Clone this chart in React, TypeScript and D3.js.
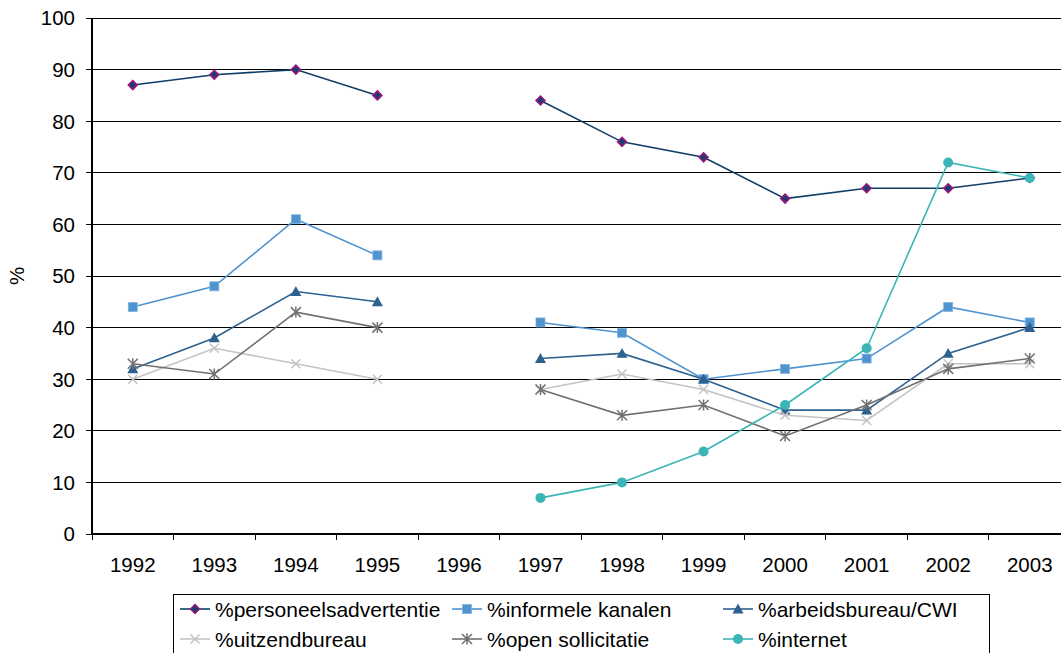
import React from "react";
import * as d3 from "d3";

const years = ["1992", "1993", "1994", "1995", "1996", "1997", "1998", "1999", "2000", "2001", "2002", "2003"];
const personeelsadvertentie = [87, 89, 90, 85, null, 84, 76, 73, 65, 67, 67, 69];
const informeleKanalen = [44, 48, 61, 54, null, 41, 39, 30, 32, 34, 44, 41];
const arbeidsbureau = [32, 38, 47, 45, null, 34, 35, 30, 24, 24, 35, 40];
const uitzendbureau = [30, 36, 33, 30, null, 28, 31, 28, 23, 22, 33, 33];
const openSollicitatie = [33, 31, 43, 40, null, 28, 23, 25, 19, 25, 32, 34];
const internet = [null, null, null, null, null, 7, 10, 16, 25, 36, 72, 69];
const yTicks = [0, 10, 20, 30, 40, 50, 60, 70, 80, 90, 100];

type Series = { name: string; values: (number | null)[]; color: string; marker: string; fill: string; stroke: string };

const series: Series[] = [
  { name: "%personeelsadvertentie", values: personeelsadvertentie, color: "#0f3d66", marker: "diamond", fill: "#1a3f6e", stroke: "#a0147f" },
  { name: "%informele kanalen", values: informeleKanalen, color: "#4f93cf", marker: "square", fill: "#4f93cf", stroke: "#4f93cf" },
  { name: "%arbeidsbureau/CWI", values: arbeidsbureau, color: "#2e6190", marker: "triangle", fill: "#2e6190", stroke: "#2e6190" },
  { name: "%uitzendbureau", values: uitzendbureau, color: "#c4c4c4", marker: "x", fill: "none", stroke: "#c4c4c4" },
  { name: "%open sollicitatie", values: openSollicitatie, color: "#707070", marker: "star", fill: "none", stroke: "#707070" },
  { name: "%internet", values: internet, color: "#3bb5b5", marker: "circle", fill: "#3bb5b5", stroke: "#3bb5b5" },
];

const FONT = "'Liberation Sans', Arial, sans-serif";
const left = 92;
const right = 1070.5;
const top = 18;
const bottom = 534;

const x = d3.scaleBand<string>().domain(years).range([left, right]).padding(0);
const y = d3.scaleLinear().domain([0, 100]).range([bottom, top]);
const cx = (c: string) => (x(c) as number) + x.bandwidth() / 2;

function Marker({ kind, px, py, fill, stroke }: { kind: string; px: number; py: number; fill: string; stroke: string }) {
  if (kind === "diamond") {
    const r = 4.5;
    return <path d={`M${px},${py - r}L${px + r},${py}L${px},${py + r}L${px - r},${py}Z`} fill={fill} stroke={stroke} strokeWidth={1.5} />;
  }
  if (kind === "square") {
    const r = 4.5;
    return <rect x={px - r} y={py - r} width={2 * r} height={2 * r} fill={fill} stroke="#7fb3e0" strokeWidth={0.8} />;
  }
  if (kind === "triangle") {
    const r = 5.5;
    return <path d={`M${px},${py - r}L${px + r},${py + r * 0.8}L${px - r},${py + r * 0.8}Z`} fill={fill} />;
  }
  if (kind === "x") {
    const r = 4.5;
    return <path d={`M${px - r},${py - r}L${px + r},${py + r}M${px - r},${py + r}L${px + r},${py - r}`} stroke={stroke} strokeWidth={1.5} fill="none" />;
  }
  if (kind === "star") {
    const r = 5;
    return (
      <path
        d={`M${px - r},${py - r}L${px + r},${py + r}M${px - r},${py + r}L${px + r},${py - r}M${px},${py - r * 1.1}L${px},${py + r * 1.1}`}
        stroke={stroke}
        strokeWidth={1.5}
        fill="none"
      />
    );
  }
  return <circle cx={px} cy={py} r={5} fill={fill} />;
}

export default function App() {
  const line = d3
    .line<{ c: string; v: number | null }>()
    .defined((d) => d.v !== null)
    .x((d) => cx(d.c))
    .y((d) => y(d.v as number));

  const legendCols = [180, 452, 723];
  const legendRows = [609, 639];

  return (
    <div style={{ position: "fixed", left: 0, top: 0 }}>
      <svg width={1061} height={653} style={{ display: "block", background: "#fff" }} fontFamily={FONT}>
        {/* grid */}
        {yTicks.map((t) => (
          <line key={t} x1={left} x2={right} y1={y(t)} y2={y(t)} stroke="#000" strokeWidth={1} shapeRendering="crispEdges" />
        ))}
        {/* y axis */}
        <line x1={left} x2={left} y1={top} y2={bottom} stroke="#000" strokeWidth={1.5} shapeRendering="crispEdges" />
        {yTicks.map((t) => (
          <g key={t}>
            <line x1={left - 6} x2={left} y1={y(t)} y2={y(t)} stroke="#000" shapeRendering="crispEdges" />
            <text x={75} y={y(t)} dy="0.36em" textAnchor="end" fontSize={20.5} fill="#000">
              {t}
            </text>
          </g>
        ))}
        <text transform={`translate(24,${(top + bottom) / 2}) rotate(-90)`} textAnchor="middle" fontSize={20.5} fill="#000">
          %
        </text>
        {/* x axis */}
        <line x1={left} x2={right} y1={bottom} y2={bottom} stroke="#000" strokeWidth={1.5} shapeRendering="crispEdges" />
        {years.map((c) => (
          <line key={"t" + c} x1={x(c)} x2={x(c)} y1={bottom} y2={bottom + 6} stroke="#000" shapeRendering="crispEdges" />
        ))}
        {years.map((c) => (
          <text key={"l" + c} x={cx(c)} y={565} dy="0.36em" textAnchor="middle" fontSize={20.5} fill="#000">
            {c}
          </text>
        ))}
        {/* series */}
        {series.map((s) => {
          const pts = years.map((c, i) => ({ c, v: s.values[i] }));
          return (
            <g key={s.name}>
              <path d={line(pts) || ""} fill="none" stroke={s.color} strokeWidth={1.6} />
              {pts
                .filter((p) => p.v !== null)
                .map((p) => (
                  <Marker key={p.c} kind={s.marker} px={cx(p.c)} py={y(p.v as number)} fill={s.fill} stroke={s.stroke} />
                ))}
            </g>
          );
        })}
        {/* legend */}
        <rect x={173} y={594} width={816} height={70} fill="#fff" stroke="#000" strokeWidth={1} shapeRendering="crispEdges" />
        {series.map((s, i) => {
          const lx = legendCols[i % 3];
          const ly = legendRows[Math.floor(i / 3)];
          return (
            <g key={"lg" + s.name}>
              <line x1={lx} x2={lx + 30} y1={ly} y2={ly} stroke={s.color} strokeWidth={1.6} />
              <Marker kind={s.marker} px={lx + 15} py={ly} fill={s.fill} stroke={s.stroke} />
              <text x={lx + 35} y={ly} dy="0.36em" fontSize={21} fill="#000">
                {s.name}
              </text>
            </g>
          );
        })}
      </svg>
    </div>
  );
}
